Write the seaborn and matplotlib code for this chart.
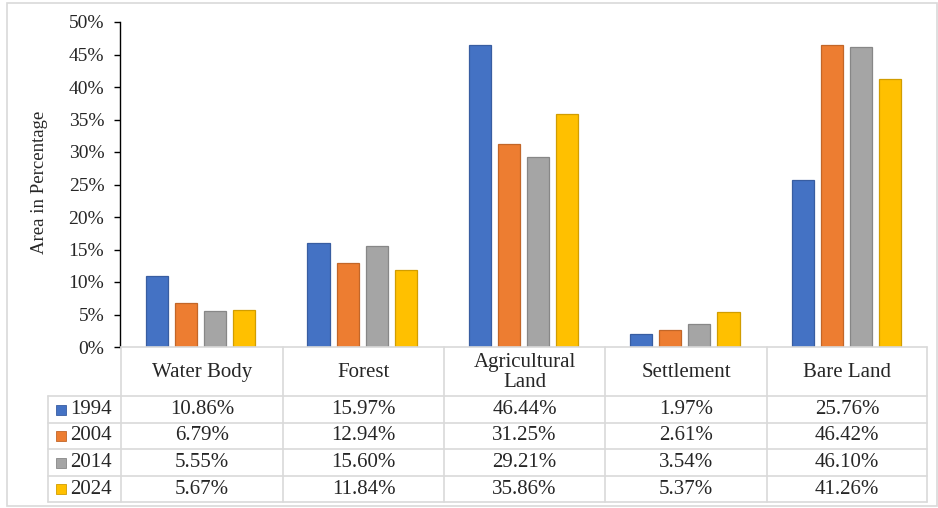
import matplotlib
matplotlib.use("Agg")
import matplotlib.pyplot as plt
import matplotlib.colors as mcolors
from matplotlib.patches import Rectangle
from matplotlib.ticker import PercentFormatter
import seaborn as sns
import pandas as pd

categories = ["Water Body", "Forest", "Agricultural Land", "Settlement", "Bare Land"]
header_labels = ["Water Body", "Forest", "Agricultural\nLand", "Settlement", "Bare Land"]
years = ["1994", "2004", "2014", "2024"]
v1994 = [10.86, 15.97, 46.44, 1.97, 25.76]
v2004 = [6.79, 12.94, 31.25, 2.61, 46.42]
v2014 = [5.55, 15.60, 29.21, 3.54, 46.10]
v2024 = [5.67, 11.84, 35.86, 5.37, 41.26]
series = [v1994, v2004, v2014, v2024]
colors = ["#4472C4", "#ED7D31", "#A5A5A5", "#FFC000"]
yticks = [0, 5, 10, 15, 20, 25, 30, 35, 40, 45, 50]

rows = []
for y, vals in zip(years, series):
    for c, v in zip(categories, vals):
        rows.append({"Category": c, "Year": y, "Value": v})
df = pd.DataFrame(rows)

sns.set_theme(style="white")
plt.rcParams["font.family"] = ["Liberation Serif", "DejaVu Serif"]

W, H = 938, 508
fig = plt.figure(figsize=(W / 100, H / 100), dpi=100)
ax_left, ax_right, ax_top, ax_bot = 120, 927, 22, 347
ax = fig.add_axes([ax_left / W, 1 - ax_bot / H, (ax_right - ax_left) / W, (ax_bot - ax_top) / H])

sns.barplot(data=df, x="Category", y="Value", hue="Year", order=categories,
            hue_order=years, palette=colors, width=0.72, gap=0.24, ax=ax,
            legend=False, errorbar=None, saturation=1)

for p in ax.patches:
    fc = mcolors.to_rgb(p.get_facecolor())
    p.set_edgecolor(tuple(c * 0.82 for c in fc))
    p.set_linewidth(0.9)

ax.set_xlim(-0.5, 4.5)
ax.set_ylim(0, 50)
ax.set_yticks(yticks)
ax.yaxis.set_major_formatter(PercentFormatter(decimals=0))
ax.tick_params(axis="y", which="major", direction="out", length=4.3, width=1,
               color="black", labelsize=14, pad=7, left=True)
ax.tick_params(axis="x", bottom=False, labelbottom=False)
ax.set_xlabel("")
ax.set_ylabel("")
for s in ["top", "right", "bottom"]:
    ax.spines[s].set_visible(False)
ax.spines["left"].set_color("black")
ax.spines["left"].set_linewidth(1)

fig.text(39 / W, 1 - 182 / H, "Area in Percentage", rotation=90, ha="center",
         va="center", fontsize=13.5)

# data table (drawn in pixel -> figure coords)
def fx(px):
    return px / W

def fy(py):
    return 1 - py / H

gc = "#D9D9D9"
col_edges = [121, 283, 444, 605, 767, 927]
row_edges = [347, 396, 423, 449, 476, 502]
leg_left = 48
lw = 1.2
fs = 15
fig.add_artist(plt.Line2D([fx(col_edges[0]), fx(col_edges[-1])], [fy(347), fy(347)], color=gc, lw=lw))
for ry in row_edges[1:]:
    fig.add_artist(plt.Line2D([fx(leg_left), fx(col_edges[-1])], [fy(ry), fy(ry)], color=gc, lw=lw))
for cx in col_edges:
    fig.add_artist(plt.Line2D([fx(cx), fx(cx)], [fy(347), fy(502)], color=gc, lw=lw))
fig.add_artist(plt.Line2D([fx(leg_left), fx(leg_left)], [fy(396), fy(502)], color=gc, lw=lw))

for i, lab in enumerate(header_labels):
    cx = (col_edges[i] + col_edges[i + 1]) / 2
    fig.text(fx(cx), fy((347 + 396) / 2 + 1), lab, ha="center", va="center",
             fontsize=fs, linespacing=1.08)

for r, (y, vals, col) in enumerate(zip(years, series, colors)):
    cy = (row_edges[r + 1] + row_edges[r + 2]) / 2
    fig.add_artist(Rectangle((fx(56), fy(cy + 5)), 10 / W, 10 / H, facecolor=col,
                             edgecolor=tuple(c * 0.82 for c in mcolors.to_rgb(col)),
                             lw=0.6, transform=fig.transFigure))
    fig.text(fx(70), fy(cy), y, ha="left", va="center", fontsize=fs)
    for i, v in enumerate(vals):
        cx = (col_edges[i] + col_edges[i + 1]) / 2
        fig.text(fx(cx), fy(cy), f"{v:.2f}%", ha="center", va="center", fontsize=fs)

fig.add_artist(Rectangle((fx(7), fy(506)), (937 - 7) / W, (506 - 3) / H, fill=False,
                         edgecolor="#D9D9D9", lw=1.2, transform=fig.transFigure))

fig.savefig("out.png", dpi=100)
